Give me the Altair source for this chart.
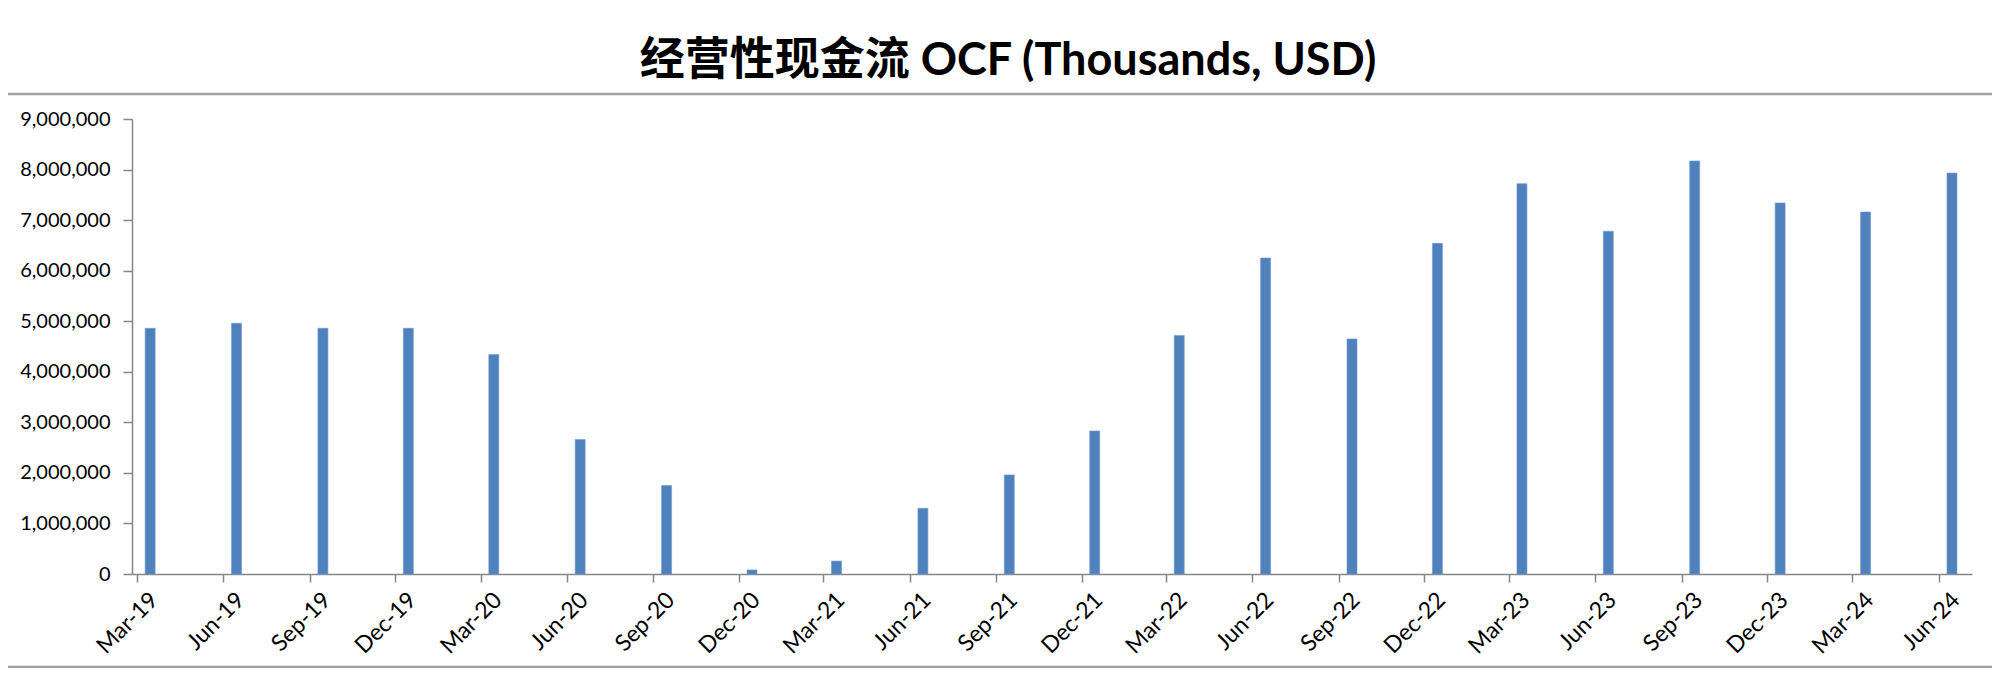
import altair as alt
import pandas as pd

# Quarter labels (as printed on the x axis)
periods = ["Mar-19", "Jun-19", "Sep-19", "Dec-19", "Mar-20", "Jun-20", "Sep-20", "Dec-20",
           "Mar-21", "Jun-21", "Sep-21", "Dec-21", "Mar-22", "Jun-22", "Sep-22", "Dec-22",
           "Mar-23", "Jun-23", "Sep-23", "Dec-23", "Mar-24", "Jun-24"]

# Operating cash flow, thousands USD
ocf = [4860000, 4960000, 4860000, 4860000, 4340000, 2660000, 1750000, 80000,
       256000, 1300000, 1960000, 2830000, 4720000, 6250000, 4650000, 6540000,
       7720000, 6780000, 8170000, 7340000, 7160000, 7930000]

y_ticks = [0, 1000000, 2000000, 3000000, 4000000, 5000000, 6000000, 7000000, 8000000, 9000000]

title_text = "经营性现金流 OCF (Thousands, USD)"

month_starts = pd.to_datetime(periods, format="%b-%y")
df = pd.DataFrame({
    "period": periods,
    "date": (month_starts + pd.Timedelta(days=14)).strftime("%Y-%m-%d"),
    "ocf": ocf,
})

tick_values = [alt.DateTime(year=d.year, month=d.month, date=1, utc=True) for d in month_starts]
last = month_starts[-1] + pd.DateOffset(months=1)
x_domain = [alt.DateTime(year=month_starts[0].year, month=month_starts[0].month, date=1, utc=True),
            alt.DateTime(year=last.year, month=last.month, date=1, utc=True)]

AXIS_GRAY = "#868686"
FONT = "Lato"

bars = alt.Chart(df).mark_bar(size=10, color="#4F81BD", stroke="#6f9ad0", strokeWidth=0.6).encode(
    x=alt.X("date:T",
            scale=alt.Scale(type="utc", domain=x_domain, nice=False),
            axis=alt.Axis(values=tick_values, format="%b-%y", title=None, labelAngle=-45,
                          labelAlign="right", labelBaseline="middle", labelOffset=17,
                          labelPadding=14, tickSize=8, tickColor=AXIS_GRAY, domainColor=AXIS_GRAY,
                          domainWidth=1.5, tickWidth=1.5, labelFont=FONT, labelFontSize=23,
                          labelColor="#000000", grid=False, labelOverlap=False, labelFlush=False)),
    y=alt.Y("ocf:Q",
            scale=alt.Scale(domain=[0, 9000000], nice=False),
            axis=alt.Axis(values=y_ticks, format=",d", title=None, tickSize=9,
                          labelPadding=13, tickColor=AXIS_GRAY, domainColor=AXIS_GRAY,
                          domainWidth=1.5, tickWidth=1.5, labelFont=FONT, labelFontSize=20,
                          labelColor="#000000", grid=False)),
)

one = pd.DataFrame({"k": [0]})
rule_top = alt.Chart(one).mark_rule(color="#a0a0a0", strokeWidth=2.5).encode(
    x=alt.value(-124), x2=alt.value(1860), y=alt.value(-25))
rule_bottom = alt.Chart(one).mark_rule(color="#a0a0a0", strokeWidth=2.5).encode(
    x=alt.value(-124), x2=alt.value(1860), y=alt.value(548))

chart = alt.layer(bars, rule_top, rule_bottom).properties(
    width=1840,
    height=455,
    background="white",
    autosize=alt.AutoSizeParams(type="none"),
    padding={"left": 124, "top": 111, "right": 20, "bottom": 94},
    title=alt.TitleParams(title_text, font='Lato, "Noto Sans CJK SC"', fontSize=45,
                          fontWeight="bold", color="#000000", anchor="middle", dx=-44, offset=9),
).configure_view(stroke=None)

chart.save("out.html", embed_options={"renderer": "svg", "actions": False})
